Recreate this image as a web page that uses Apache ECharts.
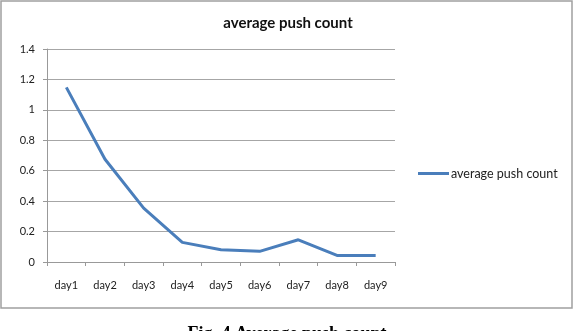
<!DOCTYPE html>
<html>
<head>
<meta charset="utf-8">
<script src="https://cdn.jsdelivr.net/npm/echarts@6/dist/echarts.min.js"></script>
<style>
  html, body { margin: 0; padding: 0; background: #fff; }
  #chart { width: 576px; height: 331px; }
</style>
</head>
<body>
<div id="chart"></div>
<script>
const days = ['day1', 'day2', 'day3', 'day4', 'day5', 'day6', 'day7', 'day8', 'day9']
const pushCount = [1.148, 0.675, 0.354, 0.129, 0.081, 0.07, 0.146, 0.043, 0.043]
const seriesName = 'average push count'
const caption = 'Fig. 4 Average push count'

const font = 'Lato, "Open Sans", sans-serif'
const chart = echarts.init(document.getElementById('chart'))

const option = {
  animation: false,
  backgroundColor: '#fff',
  title: {
    text: 'average push count',
    left: 'center',
    top: 11,
    textStyle: { fontFamily: font, fontSize: 15, fontWeight: 'bold', color: '#111' }
  },
  legend: {
    left: 413,
    top: 162,
    icon: 'rect',
    itemWidth: 31,
    itemHeight: 3,
    textStyle: { fontFamily: font, fontSize: 12.5, color: '#222', padding: [0, 0, 0, -3] },
    data: [seriesName]
  },
  grid: {
    left: 47,
    right: 181,
    top: 49,
    bottom: 69
  },
  xAxis: {
    type: 'category',
    data: days,
    boundaryGap: true,
    axisLine: { lineStyle: { color: '#999' } },
    axisTick: { show: true, length: 4, lineStyle: { color: '#999' } },
    axisLabel: { fontFamily: font, fontSize: 11, color: '#222', margin: 18 }
  },
  yAxis: {
    type: 'value',
    min: 0,
    max: 1.4,
    interval: 0.2,
    axisLine: { show: true, lineStyle: { color: '#999' } },
    axisTick: { show: true, length: 4, lineStyle: { color: '#999' } },
    axisLabel: { fontFamily: font, fontSize: 11, color: '#222', margin: 12 },
    splitLine: { lineStyle: { color: '#a6a6a6' } }
  },
  series: [
    {
      name: seriesName,
      type: 'line',
      data: pushCount,
      showSymbol: false,
      symbol: 'none',
      lineStyle: { color: '#4a7ebb', width: 3 },
      itemStyle: { color: '#4a7ebb' }
    }
  ],
  graphic: [
    {
      type: 'rect',
      shape: { x: 1, y: 1, width: 571, height: 307 },
      style: { fill: 'none', stroke: '#a0a0a0', lineWidth: 1.5 },
      z: -1
    },
    {
      // figure caption, cut off by the bottom edge as in the source
      type: 'text',
      x: 287,
      y: 325,
      style: {
        text: caption,
        font: 'bold 18px "Liberation Serif", serif',
        fill: '#000',
        textAlign: 'center',
        textVerticalAlign: 'top'
      }
    }
  ]
}

chart.setOption(option)
</script>
</body>
</html>
